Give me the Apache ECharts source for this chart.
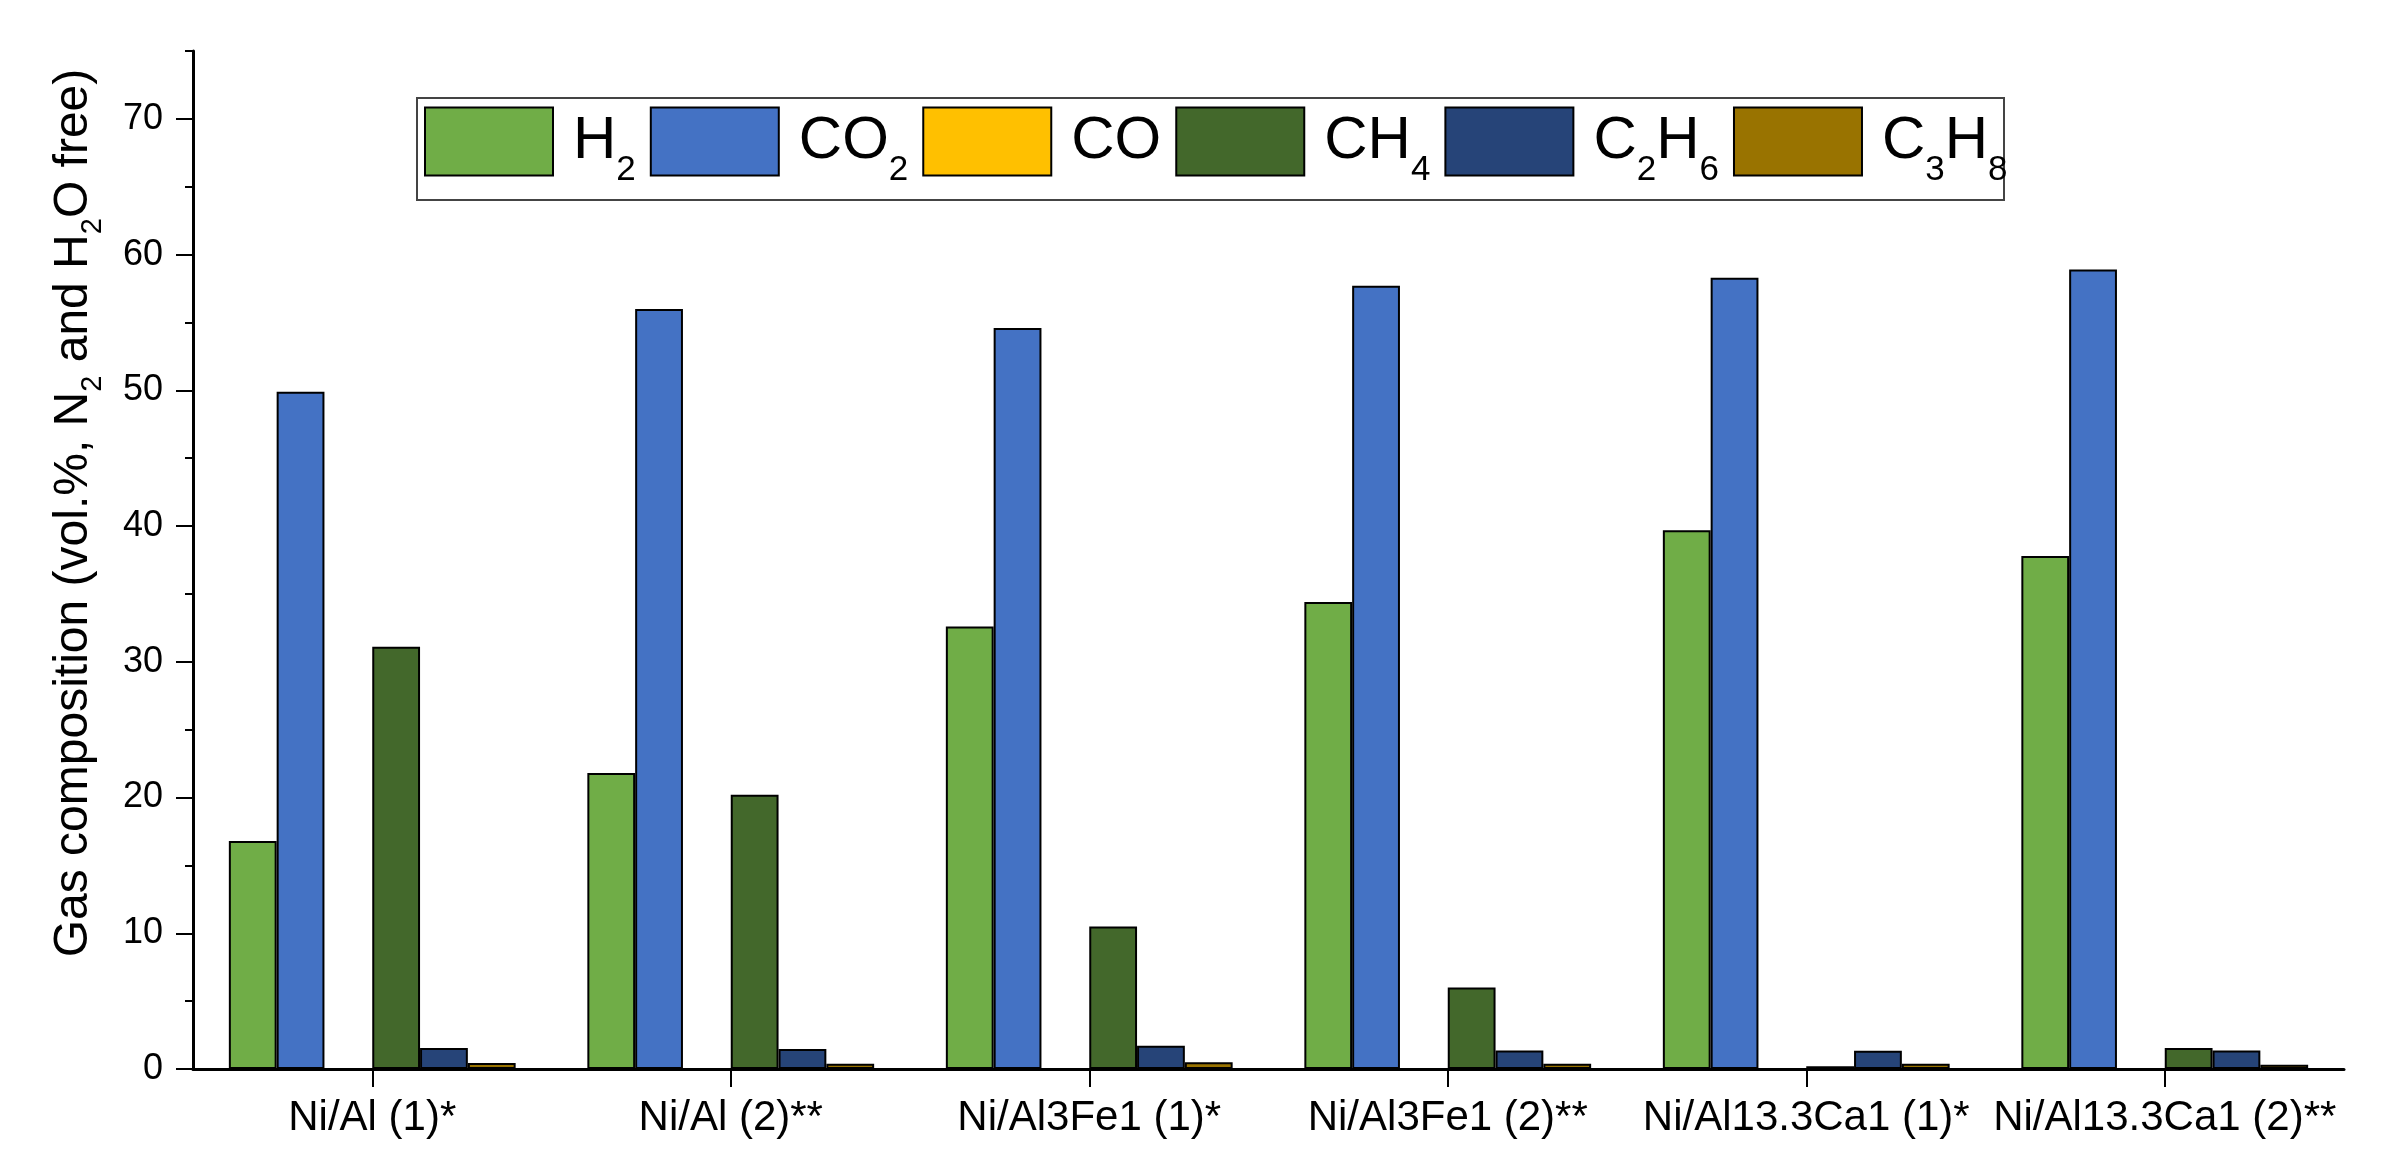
<!DOCTYPE html>
<html>
<head>
<meta charset="utf-8">
<script src="https://cdn.jsdelivr.net/npm/echarts@6/dist/echarts.min.js"></script>
<style>
  html, body { margin: 0; padding: 0; background: #fff; }
  #chart { width: 2390px; height: 1161px; }
</style>
</head>
<body>
<div id="chart"></div>
<script>
// catalysts on the x axis
const categories = ['Ni/Al (1)*', 'Ni/Al (2)**', 'Ni/Al3Fe1 (1)*', 'Ni/Al3Fe1 (2)**', 'Ni/Al13.3Ca1 (1)*', 'Ni/Al13.3Ca1 (2)**'];

// gas composition, vol.% (N2 and H2O free)
const seriesNames = ['H2', 'CO2', 'CO', 'CH4', 'C2H6', 'C3H8'];
const h2 = [16.8, 21.8, 32.6, 34.4, 39.7, 37.8];
const co2 = [49.9, 56.0, 54.6, 57.7, 58.3, 58.9];
const co = [0, 0, 0, 0, 0, 0];
const ch4 = [31.1, 20.2, 10.5, 6.0, 0.2, 1.55];
const c2h6 = [1.55, 1.47, 1.72, 1.37, 1.35, 1.37];
const c3h8 = [0.44, 0.39, 0.49, 0.39, 0.39, 0.32];

const yMajorTicks = [0, 10, 20, 30, 40, 50, 60, 70];
const yMinorTicks = [5, 15, 25, 35, 45, 55, 65, 75];

const colors = ['#70AD47', '#4472C4', '#FFC000', '#43682B', '#264478', '#997300'];
const font = 'Liberation Sans, Arial, sans-serif';

// "C2H6" -> "{g| }{n|C}{s|2}{n|H}{s|6}"
function formula(name) {
  const parts = name.match(/[A-Za-z]+|\d+/g);
  return '{g| }' + parts.map(p => (/\d/.test(p) ? '{s|' + p + '}' : '{n|' + p + '}')).join('');
}

const allData = [h2, co2, co, ch4, c2h6, c3h8];

const chart = echarts.init(document.getElementById('chart'));
chart.setOption({
  animation: false,
  textStyle: { fontFamily: font, color: '#000' },
  grid: { left: 193, right: 46, top: 51, bottom: 92, containLabel: false },
  legend: {
    data: seriesNames,
    orient: 'horizontal',
    left: 424,
    top: 95,
    padding: 0,
    itemWidth: 128,
    itemHeight: 68,
    itemGap: 14,
    icon: 'rect',
    itemStyle: { borderColor: '#000', borderWidth: 2 },
    formatter: formula,
    textStyle: {
      fontFamily: font,
      color: '#000',
      rich: {
        g: { width: 15, fontSize: 20 },
        n: { fontSize: 60, fontFamily: font, color: '#000' },
        s: { fontSize: 35, fontFamily: font, color: '#000', padding: [58, 0, 0, 0], lineHeight: 35 }
      }
    }
  },
  graphic: [
    {
      type: 'rect',
      z: -1,
      shape: { x: 417, y: 98, width: 1587, height: 102 },
      style: { fill: '#fff', stroke: '#444', lineWidth: 2 }
    },
    {
      type: 'text',
      x: 74,
      y: 513,
      rotation: Math.PI / 2,
      style: {
        text: 'Gas composition (vol.%, N{s|2} and H{s|2}O free)',
        fontFamily: font,
        fontSize: 48,
        fill: '#000',
        align: 'center',
        verticalAlign: 'middle',
        rich: {
          s: { fontSize: 29, fontFamily: font, fill: '#000', padding: [38, 0, 0, 0], lineHeight: 29 }
        }
      }
    }
  ],
  xAxis: {
    type: 'category',
    data: categories,
    axisLine: { show: true, lineStyle: { color: '#000', width: 3 } },
    axisTick: { show: true, alignWithLabel: true, length: 18, lineStyle: { color: '#000', width: 2 } },
    axisLabel: { fontSize: 42, color: '#000', margin: 28, fontFamily: font, interval: 0 },
    splitLine: { show: false }
  },
  yAxis: [
    {
      type: 'value',
      min: 0,
      max: 75,
      interval: 5,
      position: 'left',
      axisLine: { show: true, onZero: false, lineStyle: { color: '#000', width: 3 } },
      axisTick: { show: true, length: 17, lineStyle: { color: '#000', width: 2 }, customValues: yMajorTicks },
      axisLabel: { fontSize: 36, color: '#000', margin: 30, fontFamily: font, customValues: yMajorTicks },
      splitLine: { show: false }
    },
    {
      type: 'value',
      min: 0,
      max: 75,
      interval: 5,
      position: 'left',
      axisLine: { show: false },
      axisTick: { show: true, length: 8, lineStyle: { color: '#000', width: 2 }, customValues: yMinorTicks },
      axisLabel: { show: false },
      splitLine: { show: false }
    }
  ],
  series: seriesNames.map((name, i) => ({
    name: name,
    type: 'bar',
    yAxisIndex: 0,
    barGap: 0,
    barCategoryGap: '20%',
    data: allData[i],
    itemStyle: { color: colors[i], borderColor: '#000', borderWidth: 2 }
  }))
});
</script>
</body>
</html>
